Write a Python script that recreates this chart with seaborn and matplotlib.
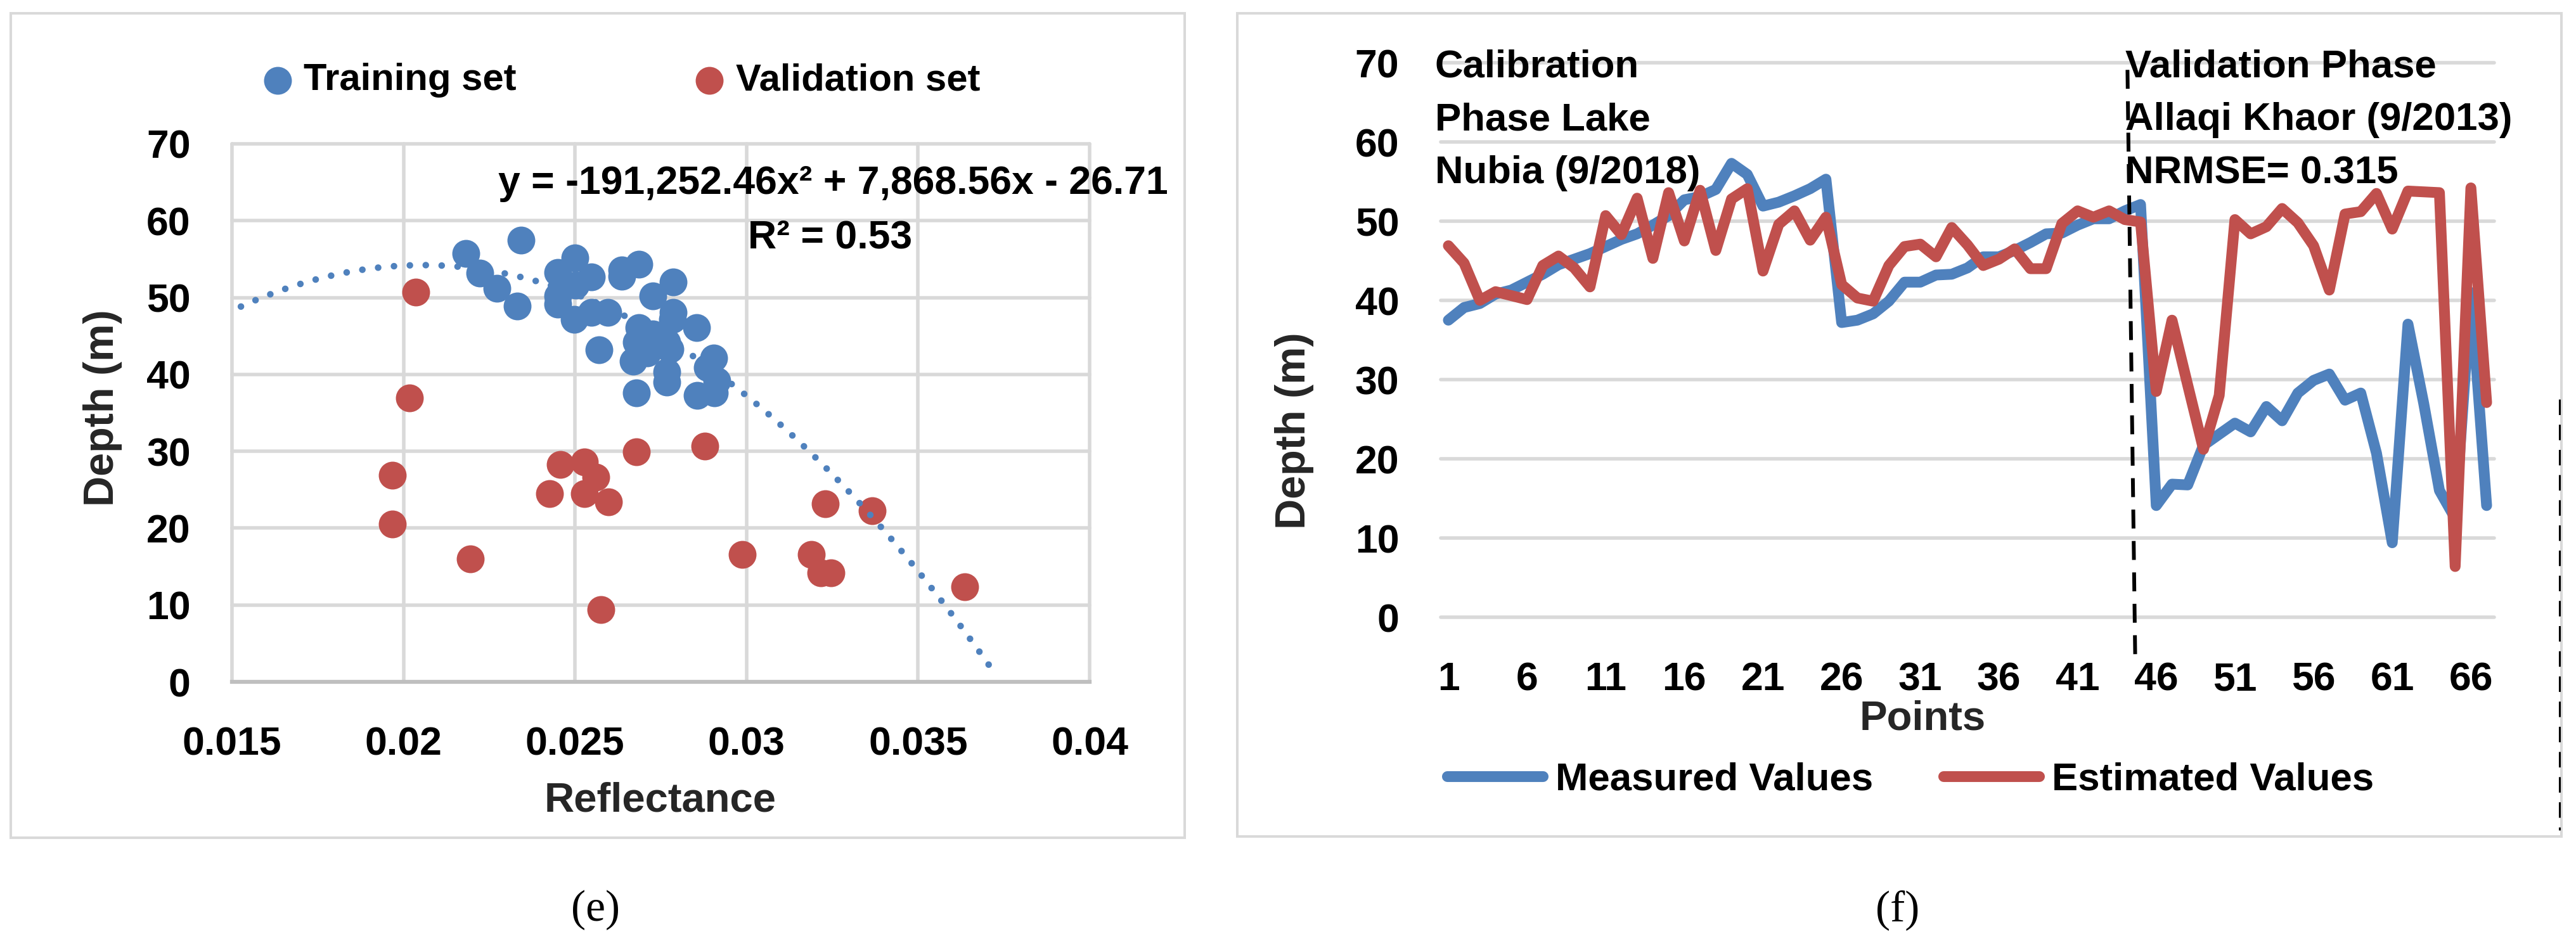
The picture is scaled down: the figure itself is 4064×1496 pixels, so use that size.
import numpy as np
import pandas as pd
import matplotlib
matplotlib.use("Agg")
import matplotlib.pyplot as plt
from matplotlib.patches import Rectangle
from matplotlib.lines import Line2D
import seaborn as sns

# ---------------- data: panel (e) ----------------
train_refl = [0.02182, 0.02342, 0.02223, 0.02272, 0.02331, 0.02449, 0.02500, 0.02547,
              0.02449, 0.02449, 0.02498, 0.02502, 0.02547, 0.02596, 0.02569, 0.02637,
              0.02686, 0.02637, 0.02727, 0.02786, 0.02786, 0.02855, 0.02686, 0.02678,
              0.02727, 0.02767, 0.02776, 0.02670, 0.02678, 0.02767, 0.02767, 0.02905,
              0.02886, 0.02914, 0.02906, 0.02857, 0.02784, 0.02743, 0.02710]
train_depth = [55.7, 57.5, 53.2, 51.2, 48.9, 53.3, 55.2, 52.7,
               50.2, 49.1, 47.2, 51.6, 48.1, 48.1, 43.2, 53.6,
               54.3, 52.8, 50.2, 52.0, 48.1, 46.1, 46.1, 44.2,
               45.3, 44.2, 43.3, 41.7, 37.6, 40.3, 39.0, 42.1,
               40.9, 39.2, 37.6, 37.3, 47.2, 43.9, 42.8]
val_refl = [0.02035, 0.02018, 0.01967, 0.01967, 0.02195, 0.02457, 0.02426, 0.02527,
            0.02561, 0.02527, 0.02597, 0.02575, 0.02678, 0.02878, 0.02987, 0.03188,
            0.03229, 0.03217, 0.03246, 0.03366, 0.03636]
val_depth = [50.7, 36.9, 26.9, 20.5, 16.0, 28.3, 24.5, 28.6,
             26.6, 24.5, 23.4, 9.4, 29.9, 30.7, 16.6, 16.6,
             23.2, 14.2, 14.2, 22.3, 12.4]
trend_coef = [-191252.46, 7868.56, -26.71]   # Excel polynomial trendline
trend_range = [0.01526, 0.0371]
e_xticks = [0.015, 0.02, 0.025, 0.03, 0.035, 0.04]
e_xticklabels = ["0.015", "0.02", "0.025", "0.03", "0.035", "0.04"]
depth_ticks = [0, 10, 20, 30, 40, 50, 60, 70]

# ---------------- data: panel (f) ----------------
points = list(range(1, 68))
measured = [37.5, 39.1, 39.6, 40.8, 41.3, 42.3, 43.3, 44.5, 45.2, 45.9,
            46.8, 47.7, 48.4, 49.5, 50.7, 52.7, 53.1, 54.0, 57.3, 55.9,
            51.9, 52.4, 53.2, 54.1, 55.3, 37.2, 37.5, 38.3, 39.9, 42.3,
            42.3, 43.2, 43.3, 44.1, 45.5, 45.5, 46.3, 47.3, 48.4, 48.5,
            49.5, 50.3, 50.3, 51.3, 52.1, 14.1, 16.8, 16.7, 21.7, 23.1,
            24.5, 23.4, 26.6, 24.8, 28.3, 29.9, 30.7, 27.4, 28.3, 20.7,
            9.4, 37.0, 27.0, 16.0, 12.5, 41.0, 14.1]
estimated = [46.9, 44.7, 40.0, 41.1, 40.6, 40.1, 44.4, 45.6, 44.1, 41.7,
             50.7, 48.3, 52.9, 45.3, 53.6, 47.5, 53.9, 46.3, 52.8, 54.1,
             43.7, 49.6, 51.3, 47.6, 50.5, 42.0, 40.3, 39.9, 44.4, 46.8,
             47.1, 45.5, 49.2, 47.0, 44.4, 45.2, 46.5, 44.0, 44.0, 49.7,
             51.3, 50.5, 51.3, 50.2, 49.9, 28.5, 37.5, 29.3, 21.2, 28.0,
             50.2, 48.4, 49.3, 51.6, 49.8, 46.9, 41.3, 50.9, 51.2, 53.5,
             49.0, 53.8, 53.7, 53.6, 6.4, 54.2, 27.1]
f_xticks = list(range(1, 67, 5))
calib_lines = ["Calibration", "Phase Lake", "Nubia (9/2018)"]
valid_lines = ["Validation Phase", "Allaqi Khaor (9/2013)", "NRMSE= 0.315"]

# ---------------- annotation geometry ----------------
divider_x = [44.17, 44.66]
divider_y = [69.1, -4.9]
text_rows_y = [68.24, 61.52, 54.8]

BLUE = "#4F81BD"
RED = "#C0504D"
GRID = "#D9D9D9"
SERIES_LW = 12.3
GRID_LW = 4.0

sns.set_theme(style="white")
plt.rcParams["font.family"] = ["Liberation Sans", "DejaVu Sans"]
plt.rcParams["font.weight"] = "bold"
plt.rcParams["axes.labelweight"] = "bold"
plt.rcParams["text.color"] = "black"
plt.rcParams["xtick.color"] = "black"
plt.rcParams["ytick.color"] = "black"

W, H = 4064, 1496
fig = plt.figure(figsize=(W / 100, H / 100), dpi=100)
fig.patch.set_facecolor("white")

# panel frames
fig.add_artist(Rectangle((17 / W, 1 - 1322 / H), 1852 / W, 1301 / H, transform=fig.transFigure,
                         fill=False, edgecolor=GRID, lw=2.9))
fig.add_artist(Rectangle((1952 / W, 1 - 1320 / H), 2089 / W, 1299 / H, transform=fig.transFigure,
                         fill=False, edgecolor=GRID, lw=2.9))

# ================= panel (e) =================
axL = fig.add_axes([366 / W, 1 - 1076 / H, 1353 / W, 849 / H])
df_train = pd.DataFrame({"Reflectance": train_refl, "Depth": train_depth})
df_val = pd.DataFrame({"Reflectance": val_refl, "Depth": val_depth})
sns.scatterplot(data=df_train, x="Reflectance", y="Depth", ax=axL, color=BLUE, s=1000,
                linewidth=0, label="Training set", zorder=3)
sns.scatterplot(data=df_val, x="Reflectance", y="Depth", ax=axL, color=RED, s=1000,
                linewidth=0, label="Validation set", zorder=3)
xs = np.linspace(trend_range[0], trend_range[1], 300)
ys = np.polyval(trend_coef, xs)
axL.plot(xs, ys, color=BLUE, lw=7.5, linestyle=(0, (0.01, 2.4)), dash_capstyle="round", zorder=4)

axL.set_xlim(0.015, 0.04)
axL.set_ylim(0, 70)
axL.set_xticks(e_xticks)
axL.set_xticklabels(e_xticklabels)
axL.set_yticks(depth_ticks)
axL.grid(True, color=GRID, lw=GRID_LW)
axL.set_axisbelow(True)
for ln in axL.get_xgridlines() + axL.get_ygridlines():
    ln.set_clip_on(False)
for side in ["left", "right", "top"]:
    axL.spines[side].set_visible(False)
axL.spines["bottom"].set_color("#BFBFBF")
axL.spines["bottom"].set_linewidth(4.5)
axL.spines["bottom"].set_zorder(2.5)
axL.tick_params(axis="both", length=0, labelsize=45)
axL.tick_params(axis="x", pad=50)
axL.tick_params(axis="y", pad=47)
axL.set_xlabel("Reflectance", fontsize=47, fontweight="bold")
axL.xaxis.set_label_coords(0.499, -0.2214)
axL.xaxis.label.set_va("center")
axL.set_ylabel("Depth (m)", fontsize=48, fontweight="bold")
axL.yaxis.set_label_coords(-0.151, 0.509)
axL.yaxis.label.set_va("center")

handles = axL.collections[:2]
axL.legend(handles, ["Training set", "Validation set"], loc="center",
           bbox_to_anchor=(981 / W, 1 - 127 / H), bbox_transform=fig.transFigure,
           ncol=2, frameon=False, fontsize=43, handlelength=0.72, handletextpad=0.33,
           columnspacing=4.75, borderpad=0, borderaxespad=0, scatterpoints=1)

fig.text(1843 / W, 1 - 306 / H, "y = -191,252.46x² + 7,868.56x - 26.71", ha="right",
         va="baseline", fontsize=45, fontweight="bold")
fig.text(1310 / W, 1 - 392 / H, "R² = 0.53", ha="center", va="baseline",
         fontsize=45, fontweight="bold")

# ================= panel (f) =================
axR = fig.add_axes([2272.6 / W, 1 - 974 / H, 1662.8 / W, 875 / H])
df_f = pd.DataFrame({
    "Points": points + points,
    "Depth": measured + estimated,
    "Series": ["Measured Values"] * len(points) + ["Estimated Values"] * len(points),
})
sns.lineplot(data=df_f, x="Points", y="Depth", hue="Series",
             hue_order=["Measured Values", "Estimated Values"], palette=[BLUE, RED],
             ax=axR, legend=False, sort=False, estimator=None, zorder=3)
series_lines = axR.lines[:2]
for ln in series_lines:
    ln.set_linewidth(SERIES_LW)
    ln.set_solid_joinstyle("round")
    ln.set_solid_capstyle("round")
axR.set_xlim(0.5, 67.5)
axR.set_ylim(0, 70)
axR.set_xticks(f_xticks)
axR.set_xticklabels([str(v) for v in f_xticks])
axR.set_yticks(depth_ticks)
axR.grid(axis="y", color=GRID, lw=GRID_LW)
axR.grid(axis="x", visible=False)
axR.set_axisbelow(True)
for ln in axR.get_ygridlines():
    ln.set_clip_on(False)
for side in ["left", "right", "top", "bottom"]:
    axR.spines[side].set_visible(False)
axR.tick_params(axis="both", length=0, labelsize=45)
axR.tick_params(axis="x", pad=50)
axR.tick_params(axis="y", pad=47)
axR.set_xlabel("Points", fontsize=47, fontweight="bold")
axR.xaxis.set_label_coords(0.4573, -0.1829)
axR.xaxis.label.set_va("center")
axR.set_ylabel("Depth (m)", fontsize=48, fontweight="bold")
axR.yaxis.set_label_coords(-0.1387, 0.336)
axR.yaxis.label.set_va("center")

axR.plot(divider_x, divider_y, color="black", lw=4.3, linestyle=(0, (5, 3.3)),
         clip_on=False, zorder=5)
for txt, yv in zip(calib_lines, text_rows_y):
    axR.text(0.15, yv, txt, ha="left", va="baseline", fontsize=44.5, fontweight="bold", zorder=6)
for txt, yv in zip(valid_lines, text_rows_y):
    axR.text(44.05, yv, txt, ha="left", va="baseline", fontsize=44.5, fontweight="bold", zorder=6)

leg_handles = [Line2D([], [], color=BLUE, lw=SERIES_LW, solid_capstyle="round"),
               Line2D([], [], color=RED, lw=SERIES_LW, solid_capstyle="round")]
axR.legend(leg_handles, ["Measured Values", "Estimated Values"], loc="center",
           bbox_to_anchor=(3014 / W, 1 - 1231 / H), bbox_transform=fig.transFigure,
           ncol=2, frameon=False, fontsize=44.5, handlelength=2.44, handletextpad=0.32,
           columnspacing=1.8, borderpad=0, borderaxespad=0)

# stray dashed line on the right border of panel (f)
fig.add_artist(Line2D([4038 / W, 4038 / W], [1 - 630 / H, 1 - 1310 / H],
                      transform=fig.transFigure, color="black", lw=2.2,
                      linestyle=(0, (8, 5))))

# captions
fig.text(940 / W, 1 - 1436 / H, "(e)", ha="center", va="center", fontsize=50,
         fontweight="normal", family=["Liberation Serif", "DejaVu Serif"])
fig.text(2994 / W, 1 - 1436 / H, "(f)", ha="center", va="center", fontsize=50,
         fontweight="normal", family=["Liberation Serif", "DejaVu Serif"])

fig.savefig("out.png", dpi=100, facecolor="white")
